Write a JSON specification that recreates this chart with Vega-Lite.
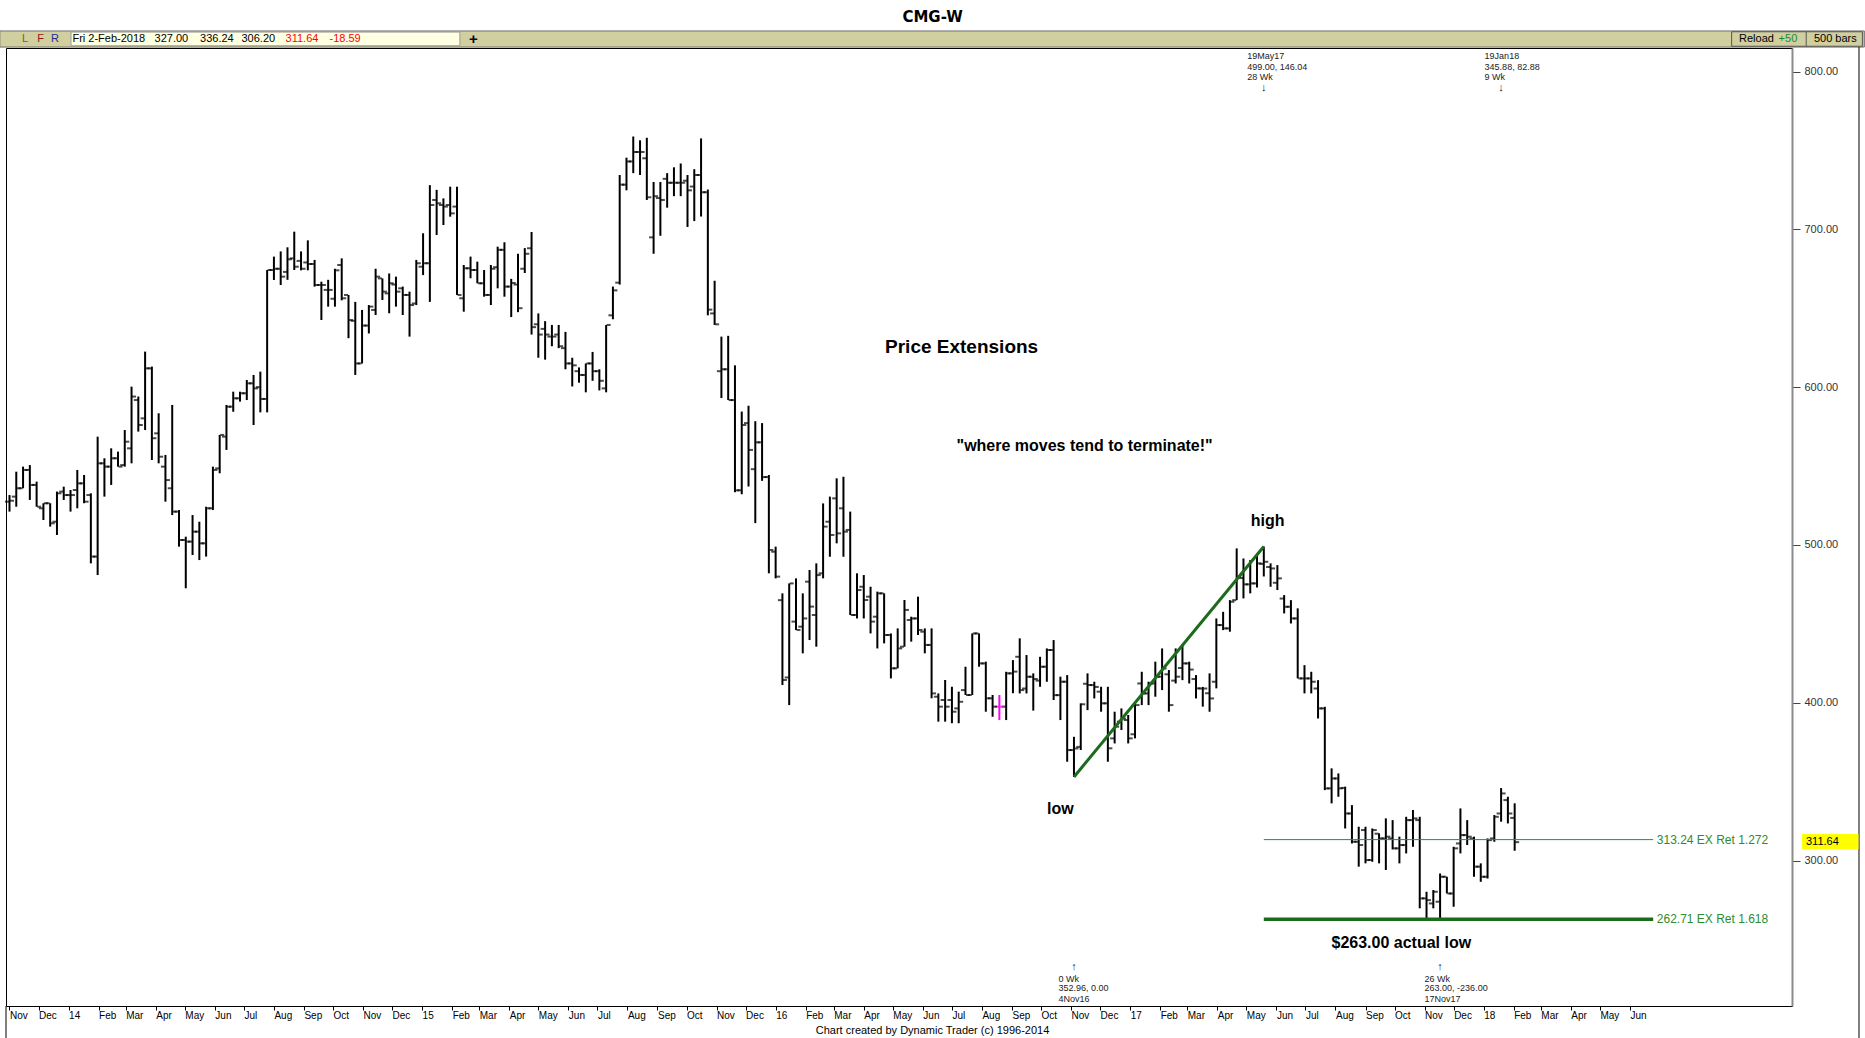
{
"$schema": "https://vega.github.io/schema/vega-lite/v6.json",
"width": 1786,
"height": 958,
"autosize": {"type": "none"},
"padding": {"left": 6, "top": 48, "right": 73, "bottom": 32},
"background": "#ffffff",
"config": {"view": {"stroke": "#000000", "strokeWidth": 1}, "text": {"font": "Liberation Sans"}, "axis": {"labelOverlap": false}, "axisX": {"labelOverlap": false}},
"data": {"values": [
{"date":"2013-11-01","o":527.4,"h":531.6,"l":521.1,"c":528.0},
{"date":"2013-11-08","o":530.6,"h":546.4,"l":524.2,"c":535.9},
{"date":"2013-11-15","o":535.9,"h":549.6,"l":535.9,"c":547.5},
{"date":"2013-11-22","o":547.5,"h":550.6,"l":528.5,"c":538.0},
{"date":"2013-11-29","o":538.0,"h":540.1,"l":524.2,"c":524.2},
{"date":"2013-12-06","o":523.2,"h":526.4,"l":515.8,"c":526.4},
{"date":"2013-12-13","o":526.4,"h":526.4,"l":511.6,"c":513.7},
{"date":"2013-12-20","o":514.7,"h":533.8,"l":506.3,"c":532.7},
{"date":"2013-12-27","o":533.8,"h":536.9,"l":528.5,"c":531.6},
{"date":"2014-01-03","o":531.6,"h":534.8,"l":521.1,"c":531.6},
{"date":"2014-01-10","o":534.8,"h":547.5,"l":523.2,"c":539.0},
{"date":"2014-01-17","o":539.0,"h":544.3,"l":526.4,"c":527.4},
{"date":"2014-01-24","o":531.6,"h":532.7,"l":488.3,"c":492.6},
{"date":"2014-01-31","o":492.6,"h":568.6,"l":480.9,"c":551.7},
{"date":"2014-02-07","o":551.7,"h":554.9,"l":530.6,"c":549.6},
{"date":"2014-02-14","o":549.6,"h":561.2,"l":538.0,"c":554.9},
{"date":"2014-02-21","o":554.9,"h":559.1,"l":549.6,"c":549.6},
{"date":"2014-02-28","o":550.6,"h":572.8,"l":549.6,"c":565.4},
{"date":"2014-03-07","o":561.2,"h":600.3,"l":551.7,"c":594.0},
{"date":"2014-03-14","o":591.8,"h":594.0,"l":571.8,"c":576.0},
{"date":"2014-03-21","o":580.2,"h":622.5,"l":572.8,"c":611.9},
{"date":"2014-03-28","o":611.9,"h":613.0,"l":553.8,"c":567.6},
{"date":"2014-04-04","o":570.7,"h":583.4,"l":551.7,"c":555.9},
{"date":"2014-04-11","o":549.6,"h":557.0,"l":527.4,"c":541.1},
{"date":"2014-04-18","o":535.9,"h":588.7,"l":518.9,"c":521.1},
{"date":"2014-04-25","o":521.1,"h":522.1,"l":498.9,"c":503.1},
{"date":"2014-05-02","o":503.1,"h":505.2,"l":472.5,"c":502.1},
{"date":"2014-05-09","o":502.1,"h":518.9,"l":493.6,"c":508.4},
{"date":"2014-05-16","o":508.4,"h":514.7,"l":490.4,"c":501.0},
{"date":"2014-05-23","o":501.0,"h":524.2,"l":492.6,"c":523.2},
{"date":"2014-05-30","o":523.2,"h":549.6,"l":522.1,"c":547.5},
{"date":"2014-06-06","o":548.5,"h":569.7,"l":545.4,"c":569.7},
{"date":"2014-06-13","o":568.6,"h":588.7,"l":560.2,"c":587.6},
{"date":"2014-06-20","o":587.6,"h":597.1,"l":584.4,"c":592.9},
{"date":"2014-06-27","o":592.9,"h":597.1,"l":590.8,"c":596.1},
{"date":"2014-07-04","o":596.1,"h":604.5,"l":591.8,"c":602.4},
{"date":"2014-07-11","o":602.4,"h":607.7,"l":576.0,"c":599.2},
{"date":"2014-07-18","o":600.0,"h":609.8,"l":584.0,"c":592.5},
{"date":"2014-07-25","o":592.5,"h":674.2,"l":584.0,"c":674.2},
{"date":"2014-08-01","o":674.2,"h":682.7,"l":667.9,"c":675.0},
{"date":"2014-08-08","o":675.0,"h":686.0,"l":664.7,"c":670.0},
{"date":"2014-08-15","o":673.0,"h":688.6,"l":668.0,"c":681.0},
{"date":"2014-08-22","o":681.6,"h":698.5,"l":674.2,"c":676.3},
{"date":"2014-08-29","o":680.0,"h":686.0,"l":674.0,"c":675.0},
{"date":"2014-09-05","o":679.0,"h":693.0,"l":674.0,"c":678.0},
{"date":"2014-09-12","o":678.0,"h":680.6,"l":663.7,"c":664.7},
{"date":"2014-09-19","o":664.7,"h":666.8,"l":642.5,"c":664.7},
{"date":"2014-09-26","o":661.6,"h":668.0,"l":651.0,"c":661.6},
{"date":"2014-10-03","o":656.0,"h":675.0,"l":651.0,"c":674.0},
{"date":"2014-10-10","o":677.4,"h":681.6,"l":655.0,"c":656.3},
{"date":"2014-10-17","o":658.4,"h":658.4,"l":631.0,"c":642.5},
{"date":"2014-10-24","o":642.0,"h":654.0,"l":607.7,"c":615.0},
{"date":"2014-10-31","o":615.0,"h":648.9,"l":615.0,"c":639.0},
{"date":"2014-11-07","o":639.0,"h":652.0,"l":634.0,"c":651.0},
{"date":"2014-11-14","o":648.9,"h":675.0,"l":645.7,"c":670.0},
{"date":"2014-11-21","o":668.9,"h":668.9,"l":655.2,"c":660.5},
{"date":"2014-11-28","o":659.4,"h":672.0,"l":646.8,"c":665.8},
{"date":"2014-12-05","o":665.0,"h":670.0,"l":651.0,"c":660.5},
{"date":"2014-12-12","o":662.6,"h":663.7,"l":645.7,"c":658.4},
{"date":"2014-12-19","o":658.4,"h":660.5,"l":632.0,"c":652.0},
{"date":"2014-12-26","o":653.0,"h":680.6,"l":652.0,"c":678.5},
{"date":"2015-01-02","o":676.3,"h":697.5,"l":671.0,"c":678.5},
{"date":"2015-01-09","o":678.5,"h":728.0,"l":654.0,"c":715.4},
{"date":"2015-01-16","o":718.6,"h":725.0,"l":696.4,"c":716.5},
{"date":"2015-01-23","o":715.4,"h":719.6,"l":702.7,"c":714.4},
{"date":"2015-01-30","o":715.4,"h":727.0,"l":708.0,"c":710.1},
{"date":"2015-02-06","o":714.4,"h":727.0,"l":658.4,"c":658.4},
{"date":"2015-02-13","o":656.3,"h":677.4,"l":647.8,"c":675.3},
{"date":"2015-02-20","o":675.3,"h":682.7,"l":669.0,"c":674.2},
{"date":"2015-02-27","o":674.2,"h":679.5,"l":665.8,"c":665.8},
{"date":"2015-03-06","o":665.8,"h":674.2,"l":657.3,"c":658.4},
{"date":"2015-03-13","o":658.4,"h":677.4,"l":652.0,"c":675.0},
{"date":"2015-03-20","o":676.0,"h":689.0,"l":662.6,"c":687.0},
{"date":"2015-03-27","o":687.0,"h":691.8,"l":657.3,"c":663.7},
{"date":"2015-04-03","o":663.7,"h":668.6,"l":644.4,"c":666.0},
{"date":"2015-04-10","o":665.0,"h":684.5,"l":647.5,"c":650.0},
{"date":"2015-04-17","o":675.0,"h":688.1,"l":672.3,"c":684.5},
{"date":"2015-04-24","o":688.0,"h":698.3,"l":633.3,"c":638.0},
{"date":"2015-05-01","o":639.8,"h":646.7,"l":618.6,"c":633.3},
{"date":"2015-05-08","o":636.9,"h":641.8,"l":617.4,"c":633.3},
{"date":"2015-05-15","o":632.0,"h":639.4,"l":625.9,"c":632.0},
{"date":"2015-05-22","o":633.3,"h":639.4,"l":624.7,"c":625.9},
{"date":"2015-05-29","o":624.7,"h":635.0,"l":611.3,"c":615.0},
{"date":"2015-06-05","o":615.0,"h":618.6,"l":600.4,"c":613.8},
{"date":"2015-06-12","o":610.1,"h":612.5,"l":602.8,"c":607.7},
{"date":"2015-06-19","o":607.7,"h":615.0,"l":596.7,"c":615.0},
{"date":"2015-06-26","o":615.0,"h":622.3,"l":604.0,"c":610.1},
{"date":"2015-07-03","o":610.1,"h":611.3,"l":597.9,"c":604.0},
{"date":"2015-07-10","o":599.2,"h":639.4,"l":596.7,"c":639.4},
{"date":"2015-07-17","o":645.5,"h":663.7,"l":643.0,"c":661.3},
{"date":"2015-07-24","o":666.2,"h":734.4,"l":665.0,"c":728.3},
{"date":"2015-07-31","o":728.3,"h":745.4,"l":724.7,"c":743.0},
{"date":"2015-08-07","o":743.0,"h":758.8,"l":735.6,"c":749.0},
{"date":"2015-08-14","o":749.0,"h":756.4,"l":734.4,"c":749.0},
{"date":"2015-08-21","o":745.0,"h":758.0,"l":718.6,"c":720.3},
{"date":"2015-08-28","o":694.9,"h":730.0,"l":684.5,"c":721.0},
{"date":"2015-09-04","o":719.8,"h":730.0,"l":695.9,"c":718.6},
{"date":"2015-09-11","o":732.0,"h":735.6,"l":713.7,"c":729.5},
{"date":"2015-09-18","o":729.5,"h":739.3,"l":721.0,"c":729.5},
{"date":"2015-09-25","o":729.5,"h":741.7,"l":721.0,"c":729.5},
{"date":"2015-10-02","o":730.8,"h":734.4,"l":701.5,"c":724.7},
{"date":"2015-10-09","o":727.1,"h":738.1,"l":705.2,"c":734.4},
{"date":"2015-10-16","o":734.4,"h":757.6,"l":708.1,"c":723.5},
{"date":"2015-10-23","o":723.5,"h":725.2,"l":645.5,"c":649.1},
{"date":"2015-10-30","o":646.7,"h":667.4,"l":639.4,"c":639.8},
{"date":"2015-11-06","o":610.1,"h":632.0,"l":593.1,"c":611.3},
{"date":"2015-11-13","o":611.3,"h":632.5,"l":591.8,"c":591.8},
{"date":"2015-11-20","o":591.8,"h":613.8,"l":533.4,"c":534.6},
{"date":"2015-11-27","o":534.6,"h":584.5,"l":532.1,"c":576.0},
{"date":"2015-12-04","o":577.2,"h":588.2,"l":537.0,"c":560.2},
{"date":"2015-12-11","o":548.0,"h":578.4,"l":513.8,"c":565.0},
{"date":"2015-12-18","o":565.0,"h":577.2,"l":540.6,"c":543.0},
{"date":"2015-12-25","o":543.0,"h":544.3,"l":482.0,"c":496.8},
{"date":"2016-01-01","o":495.7,"h":498.9,"l":478.8,"c":479.9},
{"date":"2016-01-08","o":465.0,"h":469.3,"l":411.2,"c":414.4},
{"date":"2016-01-15","o":416.0,"h":475.6,"l":398.5,"c":475.6},
{"date":"2016-01-22","o":451.4,"h":478.8,"l":446.1,"c":446.1},
{"date":"2016-01-29","o":448.2,"h":469.3,"l":431.3,"c":453.4},
{"date":"2016-02-05","o":476.7,"h":484.1,"l":439.7,"c":460.9},
{"date":"2016-02-12","o":455.6,"h":488.3,"l":435.5,"c":480.9},
{"date":"2016-02-19","o":482.0,"h":526.3,"l":478.8,"c":511.6},
{"date":"2016-02-26","o":514.7,"h":530.6,"l":492.5,"c":506.3},
{"date":"2016-03-04","o":529.5,"h":542.2,"l":501.0,"c":507.3},
{"date":"2016-03-11","o":523.2,"h":543.2,"l":492.5,"c":508.4},
{"date":"2016-03-18","o":509.5,"h":521.1,"l":455.6,"c":455.6},
{"date":"2016-03-25","o":455.6,"h":482.0,"l":453.4,"c":471.4},
{"date":"2016-04-01","o":473.5,"h":480.9,"l":453.4,"c":465.1},
{"date":"2016-04-08","o":467.2,"h":473.5,"l":443.9,"c":451.4},
{"date":"2016-04-15","o":454.5,"h":470.4,"l":434.4,"c":469.3},
{"date":"2016-04-22","o":469.3,"h":469.3,"l":437.6,"c":442.9},
{"date":"2016-04-29","o":442.9,"h":443.9,"l":415.4,"c":421.8},
{"date":"2016-05-06","o":421.8,"h":447.1,"l":421.8,"c":434.4},
{"date":"2016-05-13","o":435.5,"h":465.1,"l":435.5,"c":458.8},
{"date":"2016-05-20","o":452.4,"h":454.5,"l":438.7,"c":453.4},
{"date":"2016-05-27","o":453.4,"h":467.2,"l":442.9,"c":446.1},
{"date":"2016-06-03","o":445.0,"h":447.1,"l":431.3,"c":436.6},
{"date":"2016-06-10","o":436.6,"h":447.1,"l":402.8,"c":405.9},
{"date":"2016-06-17","o":403.8,"h":405.9,"l":388.0,"c":397.5},
{"date":"2016-06-24","o":401.7,"h":414.4,"l":388.0,"c":397.5},
{"date":"2016-07-01","o":401.7,"h":410.1,"l":387.0,"c":394.3},
{"date":"2016-07-08","o":396.4,"h":407.0,"l":387.0,"c":400.6},
{"date":"2016-07-15","o":408.0,"h":422.8,"l":404.9,"c":404.9},
{"date":"2016-07-22","o":404.9,"h":443.9,"l":404.9,"c":443.9},
{"date":"2016-07-29","o":443.9,"h":443.9,"l":422.8,"c":424.9},
{"date":"2016-08-05","o":424.9,"h":426.0,"l":394.3,"c":402.8},
{"date":"2016-08-12","o":402.8,"h":404.9,"l":391.1,"c":397.5},
{"date":"2016-08-19","o":397.5,"h":404.9,"l":389.0,"c":397.5},
{"date":"2016-08-26","o":397.5,"h":419.6,"l":389.0,"c":418.6},
{"date":"2016-09-02","o":418.6,"h":427.0,"l":406.0,"c":419.7},
{"date":"2016-09-09","o":429.1,"h":440.8,"l":405.9,"c":408.0},
{"date":"2016-09-16","o":409.0,"h":430.2,"l":405.9,"c":416.5},
{"date":"2016-09-23","o":416.5,"h":418.6,"l":395.0,"c":415.0},
{"date":"2016-09-30","o":414.0,"h":429.1,"l":410.1,"c":422.8},
{"date":"2016-10-07","o":422.8,"h":434.4,"l":413.3,"c":433.4},
{"date":"2016-10-14","o":433.4,"h":439.7,"l":401.7,"c":404.8},
{"date":"2016-10-21","o":404.8,"h":416.5,"l":389.0,"c":413.3},
{"date":"2016-10-28","o":413.3,"h":417.5,"l":362.6,"c":370.0},
{"date":"2016-11-04","o":370.0,"h":378.4,"l":352.96,"c":371.0},
{"date":"2016-11-11","o":372.0,"h":399.6,"l":370.0,"c":399.0},
{"date":"2016-11-18","o":412.0,"h":418.6,"l":395.3,"c":411.2},
{"date":"2016-11-25","o":411.2,"h":413.3,"l":402.7,"c":410.0},
{"date":"2016-12-02","o":407.0,"h":410.1,"l":394.3,"c":399.6},
{"date":"2016-12-09","o":399.6,"h":410.1,"l":362.6,"c":371.1},
{"date":"2016-12-16","o":377.4,"h":394.3,"l":374.2,"c":384.8},
{"date":"2016-12-23","o":388.0,"h":396.4,"l":382.7,"c":390.0},
{"date":"2016-12-30","o":389.0,"h":392.2,"l":374.2,"c":377.4},
{"date":"2017-01-06","o":380.0,"h":399.6,"l":377.4,"c":398.5},
{"date":"2017-01-13","o":412.2,"h":419.6,"l":398.5,"c":405.9},
{"date":"2017-01-20","o":405.9,"h":413.3,"l":398.5,"c":412.2},
{"date":"2017-01-27","o":412.2,"h":426.0,"l":403.8,"c":416.5},
{"date":"2017-02-03","o":416.5,"h":434.4,"l":408.0,"c":421.7},
{"date":"2017-02-10","o":418.0,"h":420.7,"l":394.3,"c":398.5},
{"date":"2017-02-17","o":414.0,"h":434.4,"l":412.2,"c":416.5},
{"date":"2017-02-24","o":422.0,"h":436.5,"l":414.3,"c":424.9},
{"date":"2017-03-03","o":424.9,"h":426.0,"l":412.2,"c":421.0},
{"date":"2017-03-10","o":415.0,"h":417.5,"l":402.7,"c":409.1},
{"date":"2017-03-17","o":409.0,"h":410.0,"l":397.5,"c":409.0},
{"date":"2017-03-24","o":406.0,"h":418.6,"l":394.3,"c":402.7},
{"date":"2017-03-31","o":413.3,"h":453.4,"l":409.1,"c":449.2},
{"date":"2017-04-07","o":449.2,"h":457.6,"l":446.0,"c":447.1},
{"date":"2017-04-14","o":447.1,"h":465.0,"l":445.0,"c":464.0},
{"date":"2017-04-21","o":465.0,"h":497.8,"l":465.0,"c":479.8},
{"date":"2017-04-28","o":479.0,"h":491.4,"l":466.1,"c":475.0},
{"date":"2017-05-05","o":475.0,"h":490.4,"l":469.3,"c":475.6},
{"date":"2017-05-12","o":475.6,"h":494.0,"l":473.0,"c":488.3},
{"date":"2017-05-19","o":488.0,"h":499.0,"l":480.0,"c":489.3},
{"date":"2017-05-26","o":486.0,"h":488.3,"l":473.5,"c":485.1},
{"date":"2017-06-02","o":476.0,"h":487.2,"l":471.4,"c":478.8},
{"date":"2017-06-09","o":466.0,"h":468.2,"l":456.6,"c":460.8},
{"date":"2017-06-16","o":460.8,"h":465.0,"l":450.2,"c":453.4},
{"date":"2017-06-23","o":453.4,"h":459.8,"l":415.4,"c":415.4},
{"date":"2017-06-30","o":415.4,"h":423.8,"l":405.9,"c":415.4},
{"date":"2017-07-07","o":415.4,"h":419.6,"l":405.9,"c":413.3},
{"date":"2017-07-14","o":409.0,"h":414.3,"l":390.0,"c":396.4},
{"date":"2017-07-21","o":396.4,"h":397.4,"l":344.6,"c":345.7},
{"date":"2017-07-28","o":345.7,"h":358.4,"l":336.2,"c":352.0},
{"date":"2017-08-04","o":352.0,"h":355.2,"l":340.4,"c":345.7},
{"date":"2017-08-11","o":346.0,"h":346.8,"l":320.3,"c":329.8},
{"date":"2017-08-18","o":329.8,"h":335.1,"l":310.8,"c":311.9},
{"date":"2017-08-25","o":311.9,"h":321.4,"l":296.1,"c":309.8},
{"date":"2017-09-01","o":319.3,"h":321.4,"l":298.2,"c":300.3},
{"date":"2017-09-08","o":300.3,"h":320.3,"l":299.2,"c":319.3},
{"date":"2017-09-15","o":317.0,"h":317.2,"l":298.2,"c":314.0},
{"date":"2017-09-22","o":314.0,"h":326.7,"l":294.0,"c":315.1},
{"date":"2017-09-29","o":314.0,"h":325.6,"l":307.0,"c":307.7},
{"date":"2017-10-06","o":307.7,"h":315.1,"l":298.2,"c":309.8},
{"date":"2017-10-13","o":309.8,"h":327.7,"l":304.5,"c":325.6},
{"date":"2017-10-20","o":325.6,"h":332.0,"l":308.7,"c":326.7},
{"date":"2017-10-27","o":325.6,"h":327.7,"l":269.7,"c":276.0},
{"date":"2017-11-03","o":276.0,"h":280.2,"l":263.3,"c":274.9},
{"date":"2017-11-10","o":272.8,"h":281.3,"l":269.7,"c":280.2},
{"date":"2017-11-17","o":273.9,"h":291.8,"l":263.0,"c":289.7},
{"date":"2017-11-24","o":289.7,"h":289.7,"l":279.1,"c":279.1},
{"date":"2017-12-01","o":279.1,"h":308.7,"l":270.7,"c":307.7},
{"date":"2017-12-08","o":310.8,"h":333.0,"l":304.5,"c":316.1},
{"date":"2017-12-15","o":316.1,"h":325.6,"l":309.8,"c":315.1},
{"date":"2017-12-22","o":314.0,"h":315.1,"l":289.7,"c":296.1},
{"date":"2017-12-29","o":296.1,"h":298.2,"l":286.5,"c":289.7},
{"date":"2018-01-05","o":289.7,"h":314.0,"l":288.6,"c":312.9},
{"date":"2018-01-12","o":314.0,"h":328.8,"l":311.9,"c":327.7},
{"date":"2018-01-19","o":329.8,"h":345.88,"l":324.6,"c":342.5},
{"date":"2018-01-26","o":338.3,"h":340.4,"l":323.5,"c":329.8},
{"date":"2018-02-02","o":327.0,"h":336.24,"l":306.2,"c":311.64}
]},
"layer": [
{"mark": {"type": "rule", "strokeWidth": 2},
 "encoding": {
  "x": {"field": "date", "type": "temporal", "title": null,
   "scale": {"type": "utc", "nice": false, "domain": [{"year":2013,"month":10,"date":28,"hours":9,"minutes":20,"utc":true},{"year":2018,"month":11,"date":15,"hours":8,"utc":true}]},
   "axis": {"title": null, "grid": false, "domain": false, "tickSize": 4, "tickColor": "#000000", "labelAlign": "left", "labelBaseline": "middle", "labelPadding": 5.5, "labelDx": 6,
    "labelFont": "Liberation Sans", "labelFontSize": 10, "labelColor": "#000000", "labelOverlap": false, "labelFlush": false, "labelBound": false,
    "tickCount": {"interval": "month", "step": 1},
    "labelExpr": "datum.value > utc(2018,5,15) ? '' : (utcFormat(datum.value,'%m')=='01' ? utcFormat(datum.value,'%y') : utcFormat(datum.value,'%b'))",
    "tickOpacity": {"condition": {"test": "datum.value > utc(2018,5,15)", "value": 0}, "value": 1}
    }},
  "y": {"field": "l", "type": "quantitative", "title": null,
   "scale": {"domain": [207.8, 814.9], "nice": false, "zero": false},
   "axis": {"orient": "right", "title": null, "grid": false, "values": [300, 400, 500, 600, 700, 800], "format": ".2f",
    "domainColor": "#8C8C8C", "domainWidth": 2, "tickColor": "#444444", "tickSize": 8, "labelPadding": 4,
    "labelFont": "Liberation Sans", "labelFontSize": 11, "labelColor": "#333333", "labelFlush": false, "labelBound": false}},
  "y2": {"field": "h"},
  "color": {"condition": {"test": "utcyear(datum.date)==2016 && utcmonth(datum.date)==7 && utcdate(datum.date)==19", "value": "#FF00FF"}, "value": "#000000"}
 }},
{"mark": {"type": "tick", "orient": "horizontal", "size": 4, "thickness": 2, "xOffset": -2.5},
 "encoding": {"x": {"field": "date", "type": "temporal", "title": null}, "y": {"field": "o", "type": "quantitative", "title": null},
  "color": {"condition": {"test": "utcyear(datum.date)==2016 && utcmonth(datum.date)==7 && utcdate(datum.date)==19", "value": "#FF00FF"}, "value": "#000000"}}},
{"mark": {"type": "tick", "orient": "horizontal", "size": 4, "thickness": 2, "xOffset": 2.5},
 "encoding": {"x": {"field": "date", "type": "temporal", "title": null}, "y": {"field": "c", "type": "quantitative", "title": null},
  "color": {"condition": {"test": "utcyear(datum.date)==2016 && utcmonth(datum.date)==7 && utcdate(datum.date)==19", "value": "#FF00FF"}, "value": "#000000"}}},
{"data": {"values": [{}]}, "mark": {"type": "rect", "fill": "#D1CE9F", "stroke": "#6E6E6E", "strokeWidth": 1},
 "encoding": {"x": {"datum": {"year":2013,"month":10,"date":22,"utc":true}, "type": "temporal"}, "x2": {"datum": {"year":2019,"month":1,"date":29,"utc":true}},
  "y": {"datum": 815.5, "type": "quantitative"}, "y2": {"datum": 825.7}}},
{"data": {"values": [{}]}, "mark": {"type": "rect", "fill": "#FFFFE1", "stroke": "#9A9A9A", "strokeWidth": 1},
 "encoding": {"x": {"datum": {"year":2014,"month":1,"date":3,"hours":12,"utc":true}, "type": "temporal"}, "x2": {"datum": {"year":2015,"month":2,"date":9,"utc":true}},
  "y": {"datum": 816.3, "type": "quantitative"}, "y2": {"datum": 825.0}}},
{"data": {"values": [{}]}, "mark": {"type": "rect", "fill": "#D1CE9F", "stroke": "#555555", "strokeWidth": 1},
 "encoding": {"x": {"datum": {"year":2018,"month":9,"date":14,"utc":true}, "type": "temporal"}, "x2": {"datum": {"year":2019,"month":1,"date":27,"utc":true}},
  "y": {"datum": 816.0, "type": "quantitative"}, "y2": {"datum": 825.2}}},
{"data": {"values": [{}]}, "mark": {"type": "rule", "stroke": "#555555", "strokeWidth": 1},
 "encoding": {"x": {"datum": {"year":2018,"month":11,"date":30,"utc":true}, "type": "temporal"},
  "y": {"datum": 816.0, "type": "quantitative"}, "y2": {"datum": 825.2}}},
{"data": {"values": [{}]}, "mark": {"type": "text", "text": "L", "fontSize": 11, "fill": "#6B6B00", "align": "center", "baseline": "middle"},
 "encoding": {"x": {"datum": {"year":2013,"month":11,"date":17,"utc":true}, "type": "temporal"}, "y": {"datum": 820.6, "type": "quantitative"}}},
{"data": {"values": [{}]}, "mark": {"type": "text", "text": "F", "fontSize": 11, "fill": "#8B1A1A", "align": "center", "baseline": "middle"},
 "encoding": {"x": {"datum": {"year":2013,"month":12,"date":3,"utc":true}, "type": "temporal"}, "y": {"datum": 820.6, "type": "quantitative"}}},
{"data": {"values": [{}]}, "mark": {"type": "text", "text": "R", "fontSize": 11, "fill": "#1F2F8F", "align": "center", "baseline": "middle"},
 "encoding": {"x": {"datum": {"year":2013,"month":12,"date":18,"utc":true}, "type": "temporal"}, "y": {"datum": 820.6, "type": "quantitative"}}},
{"data": {"values": [{}]}, "mark": {"type": "text", "text": "Fri 2-Feb-2018", "fontSize": 11, "fill": "#000000", "align": "left", "baseline": "middle"},
 "encoding": {"x": {"datum": {"year":2014,"month":1,"date":5,"utc":true}, "type": "temporal"}, "y": {"datum": 820.6, "type": "quantitative"}}},
{"data": {"values": [{}]}, "mark": {"type": "text", "text": "327.00", "fontSize": 11, "fill": "#000000", "align": "left", "baseline": "middle"},
 "encoding": {"x": {"datum": {"year":2014,"month":3,"date":30,"hours":19,"utc":true}, "type": "temporal"}, "y": {"datum": 820.6, "type": "quantitative"}}},
{"data": {"values": [{}]}, "mark": {"type": "text", "text": "336.24", "fontSize": 11, "fill": "#000000", "align": "left", "baseline": "middle"},
 "encoding": {"x": {"datum": {"year":2014,"month":5,"date":16,"hours":17,"utc":true}, "type": "temporal"}, "y": {"datum": 820.6, "type": "quantitative"}}},
{"data": {"values": [{}]}, "mark": {"type": "text", "text": "306.20", "fontSize": 11, "fill": "#000000", "align": "left", "baseline": "middle"},
 "encoding": {"x": {"datum": {"year":2014,"month":6,"date":28,"hours":12,"utc":true}, "type": "temporal"}, "y": {"datum": 820.6, "type": "quantitative"}}},
{"data": {"values": [{}]}, "mark": {"type": "text", "text": "311.64", "fontSize": 11, "fill": "#FF0000", "align": "left", "baseline": "middle"},
 "encoding": {"x": {"datum": {"year":2014,"month":8,"date":13,"utc":true}, "type": "temporal"}, "y": {"datum": 820.6, "type": "quantitative"}}},
{"data": {"values": [{}]}, "mark": {"type": "text", "text": "-18.59", "fontSize": 11, "fill": "#FF0000", "align": "left", "baseline": "middle"},
 "encoding": {"x": {"datum": {"year":2014,"month":9,"date":27,"hours":10,"utc":true}, "type": "temporal"}, "y": {"datum": 820.6, "type": "quantitative"}}},
{"data": {"values": [{}]}, "mark": {"type": "text", "text": "+", "fontSize": 15, "fontWeight": "bold", "fill": "#000000", "align": "center", "baseline": "middle"},
 "encoding": {"x": {"datum": {"year":2015,"month":2,"date":23,"utc":true}, "type": "temporal"}, "y": {"datum": 820.6, "type": "quantitative"}}},
{"data": {"values": [{}]}, "mark": {"type": "text", "text": "Reload", "fontSize": 11, "fill": "#000000", "align": "left", "baseline": "middle"},
 "encoding": {"x": {"datum": {"year":2018,"month":9,"date":21,"hours":16,"utc":true}, "type": "temporal"}, "y": {"datum": 820.6, "type": "quantitative"}}},
{"data": {"values": [{}]}, "mark": {"type": "text", "text": "+50", "fontSize": 11, "fill": "#1E8C1E", "align": "left", "baseline": "middle"},
 "encoding": {"x": {"datum": {"year":2018,"month":11,"date":1,"hours":12,"utc":true}, "type": "temporal"}, "y": {"datum": 820.6, "type": "quantitative"}}},
{"data": {"values": [{}]}, "mark": {"type": "text", "text": "500 bars", "fontSize": 11, "fill": "#000000", "align": "left", "baseline": "middle"},
 "encoding": {"x": {"datum": {"year":2018,"month":12,"date":8,"utc":true}, "type": "temporal"}, "y": {"datum": 820.6, "type": "quantitative"}}},
{"data": {"values": [{}]}, "mark": {"type": "text", "text": "CMG-W", "font": "DejaVu Sans", "fontSize": 15, "fontWeight": "bold", "fill": "#000000", "align": "center", "baseline": "middle"},
 "encoding": {"x": {"datum": {"year":2016,"month":6,"date":11,"utc":true}, "type": "temporal"}, "y": {"datum": 834.8, "type": "quantitative"}}},
{"data": {"values": [{}]}, "mark": {"type": "text", "text": "Chart created by Dynamic Trader  (c) 1996-2014", "fontSize": 11, "fill": "#000000", "align": "center", "baseline": "middle"},
 "encoding": {"x": {"datum": {"year":2016,"month":6,"date":11,"utc":true}, "type": "temporal"}, "y": {"datum": 192.0, "type": "quantitative"}}},
{"data": {"values": [{}]}, "mark": {"type": "rule", "stroke": "#000000", "strokeWidth": 1},
 "encoding": {"x": {"datum": {"year":2019,"month":1,"date":23,"hours":12,"utc":true}, "type": "temporal"},
  "y": {"datum": 815.5, "type": "quantitative"}, "y2": {"datum": 187.5}}},
{"data": {"values": [{}]}, "mark": {"type": "rule", "stroke": "#000000", "strokeWidth": 1},
 "encoding": {"x": {"datum": {"year":2013,"month":10,"date":28,"hours":9,"minutes":20,"utc":true}, "type": "temporal"},
  "y": {"datum": 207.8, "type": "quantitative"}, "y2": {"datum": 187.5}}},
{"data": {"values": [{}]}, "mark": {"type": "rule", "stroke": "#1C6B1C", "strokeWidth": 3},
 "encoding": {"x": {"datum": {"year":2016,"month":11,"date":4,"utc":true}, "type": "temporal"}, "x2": {"datum": {"year":2017,"month":5,"date":19,"utc":true}},
  "y": {"datum": 352.96, "type": "quantitative"}, "y2": {"datum": 499.0}}},
{"data": {"values": [{}]}, "mark": {"type": "rule", "stroke": "#2E8B2E", "strokeWidth": 1},
 "encoding": {"x": {"datum": {"year":2017,"month":5,"date":19,"utc":true}, "type": "temporal"}, "x2": {"datum": {"year":2018,"month":6,"date":25,"utc":true}},
  "y": {"datum": 313.24, "type": "quantitative"}}},
{"data": {"values": [{}]}, "mark": {"type": "rule", "stroke": "#1C6B1C", "strokeWidth": 3.5},
 "encoding": {"x": {"datum": {"year":2017,"month":5,"date":19,"utc":true}, "type": "temporal"}, "x2": {"datum": {"year":2018,"month":6,"date":25,"utc":true}},
  "y": {"datum": 262.71, "type": "quantitative"}}},
{"data": {"values": [{}]}, "mark": {"type": "text", "text": "313.24 EX Ret 1.272", "fontSize": 12, "fill": "#2E8B2E", "align": "left", "baseline": "middle"},
 "encoding": {"x": {"datum": {"year":2018,"month":6,"date":28,"hours":18,"utc":true}, "type": "temporal"}, "y": {"datum": 313.24, "type": "quantitative"}}},
{"data": {"values": [{}]}, "mark": {"type": "text", "text": "262.71 EX Ret 1.618", "fontSize": 12, "fill": "#2E8B2E", "align": "left", "baseline": "middle"},
 "encoding": {"x": {"datum": {"year":2018,"month":6,"date":28,"hours":18,"utc":true}, "type": "temporal"}, "y": {"datum": 262.71, "type": "quantitative"}}},
{"data": {"values": [{}]}, "mark": {"type": "text", "text": "Price Extensions", "fontSize": 19, "fontWeight": "bold", "fill": "#000000", "align": "center", "baseline": "middle"},
 "encoding": {"x": {"datum": {"year":2016,"month":7,"date":11,"utc":true}, "type": "temporal"}, "y": {"datum": 625.2, "type": "quantitative"}}},
{"data": {"values": [{}]}, "mark": {"type": "text", "text": "\"where moves tend to terminate!\"", "fontSize": 16, "fontWeight": "bold", "fill": "#000000", "align": "center", "baseline": "middle"},
 "encoding": {"x": {"datum": {"year":2016,"month":11,"date":15,"utc":true}, "type": "temporal"}, "y": {"datum": 562.7, "type": "quantitative"}}},
{"data": {"values": [{}]}, "mark": {"type": "text", "text": "high", "fontSize": 16, "fontWeight": "bold", "fill": "#000000", "align": "center", "baseline": "middle"},
 "encoding": {"x": {"datum": {"year":2017,"month":5,"date":23,"utc":true}, "type": "temporal"}, "y": {"datum": 515.2, "type": "quantitative"}}},
{"data": {"values": [{}]}, "mark": {"type": "text", "text": "low", "fontSize": 16, "fontWeight": "bold", "fill": "#000000", "align": "center", "baseline": "middle"},
 "encoding": {"x": {"datum": {"year":2016,"month":10,"date":21,"utc":true}, "type": "temporal"}, "y": {"datum": 332.8, "type": "quantitative"}}},
{"data": {"values": [{}]}, "mark": {"type": "text", "text": "$263.00 actual low", "fontSize": 16, "fontWeight": "bold", "fill": "#000000", "align": "center", "baseline": "middle"},
 "encoding": {"x": {"datum": {"year":2017,"month":10,"date":8,"utc":true}, "type": "temporal"}, "y": {"datum": 247.6, "type": "quantitative"}}},
{"data": {"values": [{}]}, "mark": {"type": "text", "text": "19May17", "fontSize": 9, "fill": "#222222", "align": "left", "baseline": "middle", "dx": -16.5},
 "encoding": {"x": {"datum": {"year":2017,"month":5,"date":19,"utc":true}, "type": "temporal"}, "y": {"datum": 809.9, "type": "quantitative"}}},
{"data": {"values": [{}]}, "mark": {"type": "text", "text": "499.00, 146.04", "fontSize": 9, "fill": "#222222", "align": "left", "baseline": "middle", "dx": -16.5},
 "encoding": {"x": {"datum": {"year":2017,"month":5,"date":19,"utc":true}, "type": "temporal"}, "y": {"datum": 803.1, "type": "quantitative"}}},
{"data": {"values": [{}]}, "mark": {"type": "text", "text": "28 Wk", "fontSize": 9, "fill": "#222222", "align": "left", "baseline": "middle", "dx": -16.5},
 "encoding": {"x": {"datum": {"year":2017,"month":5,"date":19,"utc":true}, "type": "temporal"}, "y": {"datum": 796.3, "type": "quantitative"}}},
{"data": {"values": [{}]}, "mark": {"type": "text", "text": "↓", "fontSize": 11, "fill": "#222222", "align": "center", "baseline": "middle"},
 "encoding": {"x": {"datum": {"year":2017,"month":5,"date":19,"utc":true}, "type": "temporal"}, "y": {"datum": 789.4, "type": "quantitative"}}},
{"data": {"values": [{}]}, "mark": {"type": "text", "text": "19Jan18", "fontSize": 9, "fill": "#222222", "align": "left", "baseline": "middle", "dx": -16.5},
 "encoding": {"x": {"datum": {"year":2018,"month":1,"date":19,"utc":true}, "type": "temporal"}, "y": {"datum": 809.9, "type": "quantitative"}}},
{"data": {"values": [{}]}, "mark": {"type": "text", "text": "345.88, 82.88", "fontSize": 9, "fill": "#222222", "align": "left", "baseline": "middle", "dx": -16.5},
 "encoding": {"x": {"datum": {"year":2018,"month":1,"date":19,"utc":true}, "type": "temporal"}, "y": {"datum": 803.1, "type": "quantitative"}}},
{"data": {"values": [{}]}, "mark": {"type": "text", "text": "9 Wk", "fontSize": 9, "fill": "#222222", "align": "left", "baseline": "middle", "dx": -16.5},
 "encoding": {"x": {"datum": {"year":2018,"month":1,"date":19,"utc":true}, "type": "temporal"}, "y": {"datum": 796.3, "type": "quantitative"}}},
{"data": {"values": [{}]}, "mark": {"type": "text", "text": "↓", "fontSize": 11, "fill": "#222222", "align": "center", "baseline": "middle"},
 "encoding": {"x": {"datum": {"year":2018,"month":1,"date":19,"utc":true}, "type": "temporal"}, "y": {"datum": 789.4, "type": "quantitative"}}},
{"data": {"values": [{}]}, "mark": {"type": "text", "text": "↑", "fontSize": 11, "fill": "#222222", "align": "center", "baseline": "middle"},
 "encoding": {"x": {"datum": {"year":2016,"month":11,"date":4,"utc":true}, "type": "temporal"}, "y": {"datum": 232.2, "type": "quantitative"}}},
{"data": {"values": [{}]}, "mark": {"type": "text", "text": "0 Wk", "fontSize": 9, "fill": "#222222", "align": "left", "baseline": "middle", "dx": -15.5},
 "encoding": {"x": {"datum": {"year":2016,"month":11,"date":4,"utc":true}, "type": "temporal"}, "y": {"datum": 225.0, "type": "quantitative"}}},
{"data": {"values": [{}]}, "mark": {"type": "text", "text": "352.96, 0.00", "fontSize": 9, "fill": "#222222", "align": "left", "baseline": "middle", "dx": -15.5},
 "encoding": {"x": {"datum": {"year":2016,"month":11,"date":4,"utc":true}, "type": "temporal"}, "y": {"datum": 218.95, "type": "quantitative"}}},
{"data": {"values": [{}]}, "mark": {"type": "text", "text": "4Nov16", "fontSize": 9, "fill": "#222222", "align": "left", "baseline": "middle", "dx": -15.5},
 "encoding": {"x": {"datum": {"year":2016,"month":11,"date":4,"utc":true}, "type": "temporal"}, "y": {"datum": 212.2, "type": "quantitative"}}},
{"data": {"values": [{}]}, "mark": {"type": "text", "text": "↑", "fontSize": 11, "fill": "#222222", "align": "center", "baseline": "middle"},
 "encoding": {"x": {"datum": {"year":2017,"month":11,"date":17,"utc":true}, "type": "temporal"}, "y": {"datum": 232.2, "type": "quantitative"}}},
{"data": {"values": [{}]}, "mark": {"type": "text", "text": "26 Wk", "fontSize": 9, "fill": "#222222", "align": "left", "baseline": "middle", "dx": -15.5},
 "encoding": {"x": {"datum": {"year":2017,"month":11,"date":17,"utc":true}, "type": "temporal"}, "y": {"datum": 225.0, "type": "quantitative"}}},
{"data": {"values": [{}]}, "mark": {"type": "text", "text": "263.00, -236.00", "fontSize": 9, "fill": "#222222", "align": "left", "baseline": "middle", "dx": -15.5},
 "encoding": {"x": {"datum": {"year":2017,"month":11,"date":17,"utc":true}, "type": "temporal"}, "y": {"datum": 218.95, "type": "quantitative"}}},
{"data": {"values": [{}]}, "mark": {"type": "text", "text": "17Nov17", "fontSize": 9, "fill": "#222222", "align": "left", "baseline": "middle", "dx": -15.5},
 "encoding": {"x": {"datum": {"year":2017,"month":11,"date":17,"utc":true}, "type": "temporal"}, "y": {"datum": 212.2, "type": "quantitative"}}},
{"data": {"values": [{}]}, "mark": {"type": "rect", "fill": "#FFFF00"},
 "encoding": {"x": {"datum": {"year":2018,"month":11,"date":25,"hours":17,"utc":true}, "type": "temporal"}, "x2": {"datum": {"year":2019,"month":1,"date":23,"utc":true}},
  "y": {"datum": 307.3, "type": "quantitative"}, "y2": {"datum": 316.8}}},
{"data": {"values": [{}]}, "mark": {"type": "text", "text": "311.64", "fontSize": 11, "fill": "#000000", "align": "left", "baseline": "middle"},
 "encoding": {"x": {"datum": {"year":2018,"month":11,"date":29,"hours":19,"utc":true}, "type": "temporal"}, "y": {"datum": 311.64, "type": "quantitative"}}}
]
}
